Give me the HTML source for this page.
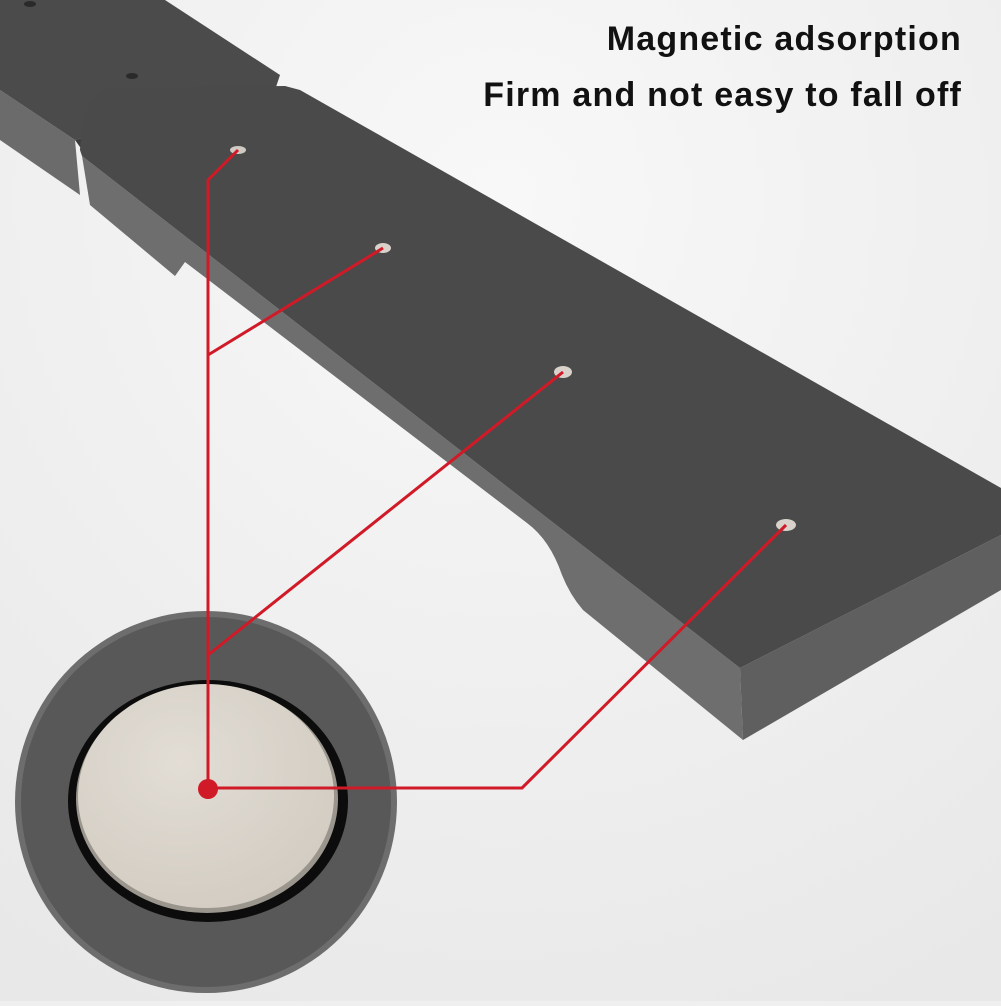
<!DOCTYPE html>
<html><head><style>body{margin:0;width:1001px;height:1001px;overflow:hidden;background:#efefef}</style></head>
<body>
<svg width="1001" height="1001" viewBox="0 0 1001 1001" xmlns="http://www.w3.org/2000/svg">
<defs>
<radialGradient id="bg" cx="0.5" cy="0.2" r="0.9"><stop offset="0" stop-color="#f8f8f8"/><stop offset="1" stop-color="#e8e8e8"/></radialGradient>
<radialGradient id="mag" cx="0.4" cy="0.35" r="0.7"><stop offset="0" stop-color="#e2ddd5"/><stop offset="1" stop-color="#d2ccc2"/></radialGradient>
</defs>
<rect width="1001" height="1001" fill="url(#bg)"/>
<!-- left block -->
<polygon points="0,90 75,140 80,195 0,140" fill="#6b6b6b"/>
<polygon points="0,0 165,0 280,75 275,90 75,140 0,90" fill="#4b4b4b"/>
<polygon points="75,140 275,90 270,97 80,147" fill="#3a3a3a"/>
<ellipse cx="132" cy="76" rx="6" ry="3" fill="#2a2a2a"/>
<ellipse cx="30" cy="4" rx="6" ry="3" fill="#2a2a2a"/>
<!-- main bar front face -->
<path d="M82,156 L740,668 L743,740 L583,610 Q570,595 562,575 Q550,540 527,523 L185,262 L175,276 L90,205 Z" fill="#6e6e6e"/>
<!-- end face -->
<polygon points="740,668 1001,535 1001,590 743,740" fill="#5f5f5f"/>
<!-- top face -->
<path d="M82,156 L80,150 Q82,94 110,88 L285,86 L300,90 L1001,488 L1001,535 L740,668 Z" fill="#4a4a4a"/>
<!-- holes -->
<ellipse cx="238" cy="150" rx="8" ry="4" fill="#cfcac2"/>
<ellipse cx="383" cy="248" rx="8" ry="5" fill="#d8d2ca"/>
<ellipse cx="563" cy="372" rx="9" ry="6" fill="#d8d2ca"/>
<ellipse cx="786" cy="525" rx="10" ry="6" fill="#d8d2ca"/>
<!-- lens -->
<circle cx="206" cy="802" r="191" fill="#6d6d6d"/>
<circle cx="206" cy="802" r="185" fill="#585858"/>
<ellipse cx="208" cy="801" rx="140" ry="121" fill="#0c0c0c"/>
<ellipse cx="207" cy="799" rx="131" ry="114" fill="#9a968e"/>
<ellipse cx="206" cy="796" rx="128" ry="112" fill="url(#mag)"/>
<!-- red lines -->
<g stroke="#d11a27" stroke-width="3" fill="none">
<polyline points="208,788 208,180 238,150"/>
<line x1="208" y1="355" x2="383" y2="248"/>
<line x1="208" y1="655" x2="563" y2="372"/>
<polyline points="208,788 522,788 786,525"/>
</g>
<circle cx="208" cy="789" r="10" fill="#d11a27"/>
<text x="962" y="50" text-anchor="end" font-family="Liberation Sans, sans-serif" font-weight="bold" font-size="34" letter-spacing="1.2" fill="#111">Magnetic adsorption</text>
<text x="962" y="106" text-anchor="end" font-family="Liberation Sans, sans-serif" font-weight="bold" font-size="34" letter-spacing="1.2" fill="#111">Firm and not easy to fall off</text>
</svg>
</body></html>
